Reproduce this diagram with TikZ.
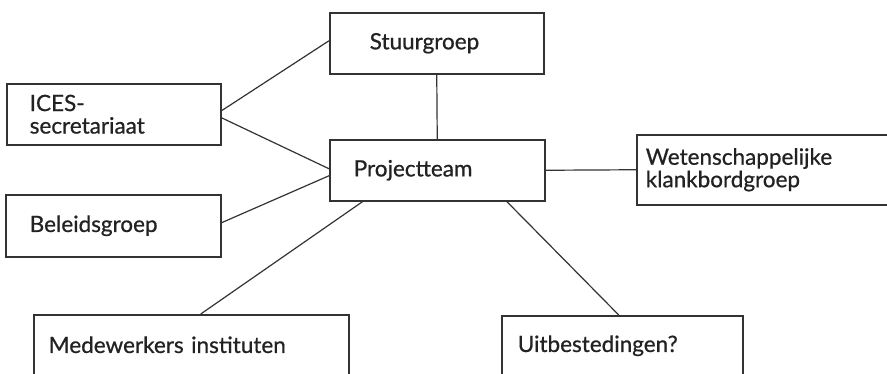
\documentclass[tikz,border=0pt]{standalone}
\usepackage{fontspec}
\setsansfont[FakeBold=0.7]{Lato}
\usepackage{tikz}
\usetikzlibrary{positioning}
\definecolor{orgline}{HTML}{333333}
\definecolor{orgtext}{HTML}{222222}

\begin{document}
\begin{tikzpicture}[x=1pt,y=-1pt,
  font=\sffamily\fontsize{22.5}{22.5}\selectfont,
  box/.style={draw=orgline,line width=1.5pt,text=orgtext,anchor=north west,align=left,inner ysep=0pt},
  lnk/.style={orgline,line width=1.2pt}]
\clip (0,0) rectangle (887,373);
\node[box,minimum height=61pt,text width=134pt,inner xsep=40pt] (stuur) at (329,12) {Stuurgroep};
\node[box,minimum height=61pt,text width=168pt,inner xsep=23pt] (ices) at (6,83) {ICES-\\secretariaat};
\node[box,minimum height=61pt,text width=167pt,inner xsep=24pt] (proj) at (329,139) {Projectteam};
\node[box,minimum height=62pt,text width=167pt,inner xsep=24pt] (bel) at (5,194) {Beleidsgroep};
\node[box,minimum height=70pt,text width=282pt,inner xsep=9pt] (wet) at (636,134) {Wetenschappelijke\\klankbordgroep};
\node[box,minimum height=60pt,text width=285pt,inner xsep=15pt] (mede) at (33,314) {Medewerkers instituten};
\node[box,minimum height=60pt,text width=209pt,inner xsep=16pt] (uit) at (501,315) {Uitbestedingen?};
\draw[lnk] ([yshift=3.5pt]ices.east) -- ([yshift=2.5pt]stuur.west);
\draw[lnk] ([yshift=-3.5pt]ices.east) -- ([yshift=1.5pt]proj.west);
\draw[lnk] ([yshift=3pt]bel.east) -- ([yshift=-5.5pt]proj.west);
\draw[lnk] (stuur.south) -- (proj.north);
\draw[lnk] (proj.east) -- (wet.west);
\draw[lnk] ([xshift=-74.5pt]proj.south) -- ([xshift=9.5pt]mede.north);
\draw[lnk] ([xshift=69.5pt]proj.south) -- ([xshift=-3.5pt]uit.north);
\end{tikzpicture}
\end{document}
